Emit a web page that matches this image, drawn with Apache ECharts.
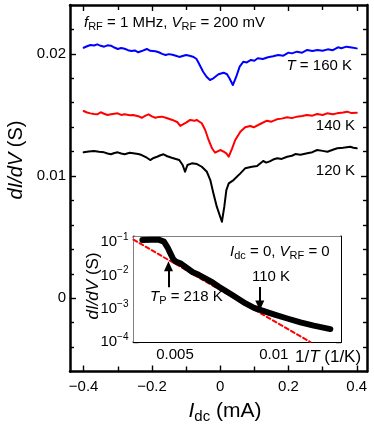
<!DOCTYPE html>
<html>
<head>
<meta charset="utf-8">
<script src="https://cdn.jsdelivr.net/npm/echarts@6/dist/echarts.min.js"></script>
<style>
  html, body { margin: 0; padding: 0; background: #fff; }
  #chart { width: 374px; height: 431px; }
</style>
</head>
<body>
<div id="chart"></div>
<script>
  // main panel: dI/dV vs Idc, [Idc (mA), dI/dV (S)]
  const curve160 = [
    [-0.40, 0.02050], [-0.39, 0.02062], [-0.38, 0.02073], [-0.37, 0.02068], [-0.36, 0.02078], [-0.35, 0.02066],
    [-0.34, 0.02059], [-0.33, 0.02070], [-0.32, 0.02067], [-0.31, 0.02052], [-0.30, 0.02040], [-0.29, 0.02048],
    [-0.28, 0.02042], [-0.27, 0.02030], [-0.26, 0.02023], [-0.25, 0.02028], [-0.24, 0.02013], [-0.23, 0.02023],
    [-0.215, 0.02040], [-0.205, 0.02025], [-0.20, 0.02018], [-0.19, 0.02022], [-0.18, 0.02013], [-0.17, 0.02000],
    [-0.16, 0.01991], [-0.15, 0.01998], [-0.14, 0.01993], [-0.13, 0.01985], [-0.12, 0.01975], [-0.11, 0.01983],
    [-0.10, 0.01991], [-0.09, 0.01985], [-0.08, 0.01977], [-0.07, 0.01960], [-0.065, 0.01936], [-0.05, 0.01854],
    [-0.04, 0.01813], [-0.03, 0.01786], [-0.02, 0.01800], [-0.005, 0.01833], [0.01, 0.01846], [0.02, 0.01833],
    [0.027, 0.01800], [0.037, 0.01745], [0.047, 0.01813], [0.057, 0.01895], [0.068, 0.01936], [0.078, 0.01930],
    [0.09, 0.01950], [0.10, 0.01944], [0.11, 0.01964], [0.125, 0.01958], [0.14, 0.01972], [0.155, 0.01980],
    [0.17, 0.01991], [0.185, 0.01985], [0.20, 0.02010], [0.21, 0.02004], [0.225, 0.02018], [0.24, 0.02010],
    [0.255, 0.02032], [0.27, 0.02024], [0.285, 0.02032], [0.30, 0.02025], [0.315, 0.02037], [0.33, 0.02030],
    [0.345, 0.02054], [0.355, 0.02046], [0.37, 0.02059], [0.385, 0.02052], [0.40, 0.02045]
  ];
  const curve140 = [
    [-0.40, 0.01532], [-0.39, 0.01520], [-0.38, 0.01513], [-0.37, 0.01508], [-0.36, 0.01505], [-0.35, 0.01522],
    [-0.34, 0.01510], [-0.33, 0.01500], [-0.32, 0.01506], [-0.30, 0.01513], [-0.29, 0.01500], [-0.28, 0.01505],
    [-0.265, 0.01498], [-0.255, 0.01500], [-0.24, 0.01490], [-0.23, 0.01477], [-0.22, 0.01492], [-0.21, 0.01505],
    [-0.20, 0.01488], [-0.19, 0.01477], [-0.18, 0.01484], [-0.17, 0.01486], [-0.155, 0.01473], [-0.14, 0.01459],
    [-0.125, 0.01440], [-0.117, 0.01410], [-0.10, 0.01437], [-0.088, 0.01459], [-0.075, 0.01452], [-0.069, 0.01459],
    [-0.054, 0.01432], [-0.044, 0.01377], [-0.034, 0.01295], [-0.024, 0.01227], [-0.015, 0.01191], [0.0, 0.01213],
    [0.01, 0.01199], [0.018, 0.01186], [0.025, 0.01158], [0.035, 0.01227], [0.044, 0.01295], [0.059, 0.01363],
    [0.073, 0.01399], [0.088, 0.01410], [0.098, 0.01399], [0.117, 0.01426], [0.137, 0.01453], [0.15, 0.01445],
    [0.166, 0.01464], [0.18, 0.01470], [0.196, 0.01481], [0.21, 0.01474], [0.225, 0.01486], [0.24, 0.01492],
    [0.254, 0.01500], [0.27, 0.01494], [0.284, 0.01508], [0.30, 0.01500], [0.313, 0.01513], [0.33, 0.01506],
    [0.342, 0.01513], [0.36, 0.01520], [0.372, 0.01527], [0.385, 0.01515], [0.40, 0.01518]
  ];
  const curve120 = [
    [-0.40, 0.01194], [-0.385, 0.01200], [-0.37, 0.01205], [-0.355, 0.01198], [-0.34, 0.01194], [-0.33, 0.01185],
    [-0.32, 0.01178], [-0.31, 0.01188], [-0.30, 0.01194], [-0.29, 0.01184], [-0.28, 0.01178], [-0.265, 0.01190],
    [-0.255, 0.01186], [-0.24, 0.01180], [-0.23, 0.01172], [-0.215, 0.01150], [-0.205, 0.01131], [-0.195, 0.01148],
    [-0.185, 0.01158], [-0.175, 0.01170], [-0.166, 0.01178], [-0.155, 0.01162], [-0.142, 0.01150], [-0.13, 0.01140],
    [-0.12, 0.01131], [-0.11, 0.01090], [-0.103, 0.01035], [-0.096, 0.01090], [-0.083, 0.01104], [-0.068, 0.01098],
    [-0.054, 0.01076], [-0.039, 0.01035], [-0.029, 0.00967], [-0.02, 0.00859], [-0.01, 0.00749], [0.0, 0.00667],
    [0.005, 0.00626], [0.012, 0.00749], [0.018, 0.00885], [0.025, 0.00940], [0.039, 0.00967], [0.059, 0.01022],
    [0.073, 0.01063], [0.093, 0.01076], [0.108, 0.01082], [0.126, 0.01123], [0.135, 0.01110], [0.145, 0.01120],
    [0.155, 0.01135], [0.167, 0.01145], [0.18, 0.01140], [0.196, 0.01158], [0.21, 0.01166], [0.22, 0.01180],
    [0.235, 0.01174], [0.255, 0.01186], [0.27, 0.01195], [0.284, 0.01213], [0.30, 0.01206], [0.314, 0.01199],
    [0.33, 0.01215], [0.343, 0.01227], [0.36, 0.01232], [0.381, 0.01240], [0.39, 0.01232], [0.40, 0.01227]
  ];

  // inset: zero-bias dI/dV vs 1/T, [1/T (1/K), dI/dV (S)]
  const arrhenius = [
    [0.00335, 0.118], [0.0038, 0.120], [0.0042, 0.119], [0.00444, 0.105], [0.00462, 0.071], [0.00478, 0.045],
    [0.0049, 0.032], [0.00503, 0.0265], [0.0053, 0.0229], [0.00555, 0.0178], [0.0059, 0.0126], [0.0062, 0.0105],
    [0.00655, 0.0081], [0.0069, 0.0062], [0.00722, 0.0046], [0.0079, 0.0026], [0.00857, 0.00145], [0.0090, 0.00107],
    [0.0095, 0.00085], [0.0100, 0.00068], [0.01068, 0.00051], [0.01135, 0.00039], [0.01202, 0.00031], [0.01286, 0.000245]
  ];
  const activatedFit = [[0.0029, 0.12], [0.0110, 0.000196], [0.01185, 0.0001]];
  const arrowTp = [[0.00467, 0.00445], [0.00467, 0.0190]];
  const arrow110 = [[0.00929, 0.00454], [0.00929, 0.00125]];

  // ticks and labels
  const mainXLabels = [-0.4, -0.2, 0, 0.2, 0.4];
  const mainXMinor = [-0.3, -0.1, 0.1, 0.3];
  const mainYLabels = [0, 0.01, 0.02];
  const mainYMinor = [-0.004, -0.002, 0.002, 0.004, 0.006, 0.008, 0.012, 0.014, 0.016, 0.018, 0.022];
  const insetXLabels = [0.005, 0.01];
  const insetXMinor = [0.003, 0.004, 0.006, 0.007, 0.008, 0.009, 0.011, 0.012, 0.013];
  const insetYLabels = [1e-4, 1e-3, 1e-2, 1e-1];
  const insetYMinor = [];
  [1e-4, 1e-3, 1e-2].forEach(d => { for (let k = 2; k <= 9; k++) insetYMinor.push(k * d); });

  const FONT = '"Liberation Sans", Arial, Helvetica, sans-serif';
  const BLACK = '#000';

  function axis(gridIndex, position, min, max, opts) {
    const a = {
      gridIndex: gridIndex,
      type: opts.log ? 'log' : 'value',
      position: position,
      min: min,
      max: max,
      splitLine: { show: false },
      axisLine: { show: !!opts.line, onZero: false, lineStyle: { color: BLACK, width: opts.line || 0 } },
      axisTick: { show: true, inside: true, length: opts.tickLen, customValues: opts.ticks,
        lineStyle: { color: BLACK, width: 1.4 } },
      axisLabel: { show: false }
    };
    if (opts.log) a.logBase = 10;
    if (opts.labels) {
      a.axisLabel = {
        show: true,
        customValues: opts.labels,
        color: BLACK,
        fontFamily: FONT,
        fontSize: opts.fontSize,
        margin: opts.margin,
        formatter: opts.formatter,
        rich: opts.rich
      };
    }
    return a;
  }

  const minus = v => String(v).replace('-', '\u2212');
  const MAIN_X = [-0.44, 0.43];
  const MAIN_Y = [-0.006, 0.024];
  const INS_X = [0.0029, 0.0134];
  const INS_Y = [1e-4, 0.15];

  const xAxes = [
    axis(0, 'bottom', MAIN_X[0], MAIN_X[1], { line: 2.5, tickLen: 6, ticks: mainXLabels, labels: mainXLabels, fontSize: 15, margin: 8, formatter: minus }),
    axis(0, 'top', MAIN_X[0], MAIN_X[1], { line: 2.5, tickLen: 6, ticks: mainXLabels }),
    axis(1, 'bottom', MAIN_X[0], MAIN_X[1], { tickLen: 5, ticks: mainXMinor }),
    axis(1, 'top', MAIN_X[0], MAIN_X[1], { tickLen: 5, ticks: mainXMinor }),
    axis(2, 'bottom', INS_X[0], INS_X[1], { line: 2, tickLen: 5, ticks: insetXLabels, labels: insetXLabels, fontSize: 15, margin: 5, formatter: v => String(v) }),
    axis(2, 'top', INS_X[0], INS_X[1], { line: 2, tickLen: 5, ticks: insetXLabels }),
    axis(3, 'bottom', INS_X[0], INS_X[1], { tickLen: 3.5, ticks: insetXMinor }),
    axis(3, 'top', INS_X[0], INS_X[1], { tickLen: 3.5, ticks: insetXMinor })
  ];
  const supRich = {
    b: { fontFamily: FONT, fontSize: 15, color: BLACK },
    p: { fontFamily: FONT, fontSize: 10, color: BLACK, padding: [0, 0, 10, 0] }
  };
  const yAxes = [
    axis(0, 'left', MAIN_Y[0], MAIN_Y[1], { line: 2.5, tickLen: 6, ticks: mainYLabels, labels: mainYLabels, fontSize: 15, margin: 4 }),
    axis(0, 'right', MAIN_Y[0], MAIN_Y[1], { line: 2.5, tickLen: 6, ticks: mainYLabels }),
    axis(1, 'left', MAIN_Y[0], MAIN_Y[1], { tickLen: 4, ticks: mainYMinor }),
    axis(1, 'right', MAIN_Y[0], MAIN_Y[1], { tickLen: 4, ticks: mainYMinor }),
    axis(2, 'left', INS_Y[0], INS_Y[1], { log: true, line: 2, tickLen: 5, ticks: insetYLabels, labels: insetYLabels, margin: 5,
      formatter: v => '{b|10}{p|\u2212' + Math.round(-Math.log10(v)) + '}', rich: supRich }),
    axis(2, 'right', INS_Y[0], INS_Y[1], { log: true, line: 2, tickLen: 5, ticks: insetYLabels }),
    axis(3, 'left', INS_Y[0], INS_Y[1], { log: true, tickLen: 3, ticks: insetYMinor }),
    axis(3, 'right', INS_Y[0], INS_Y[1], { log: true, tickLen: 3, ticks: insetYMinor })
  ];

  function text(x, y, str, size, opts) {
    opts = opts || {};
    const sub = opts.sub || Math.round(size * 0.72);
    return {
      type: 'text', x: x, y: y, z: 100,
      rotation: opts.rotation || 0,
      style: {
        text: str, fill: BLACK, fontFamily: FONT, fontSize: size,
        align: opts.align || 'left', verticalAlign: 'middle',
        rich: {
          i: { fontFamily: FONT, fontSize: size, fontStyle: 'italic', fill: BLACK },
          n: { fontFamily: FONT, fontSize: size, fill: BLACK },
          s: { fontFamily: FONT, fontSize: sub, fill: BLACK, padding: [Math.round(size * 0.55), 0, 0, 0] }
        }
      }
    };
  }

  const line = (data, color, xi, yi, width, type) => ({
    type: 'line', data: data, xAxisIndex: xi, yAxisIndex: yi,
    showSymbol: false, symbol: 'none', silent: true, clip: true,
    lineStyle: { color: color, width: width, type: type || 'solid', cap: 'round', join: 'round' },
    z: 3
  });
  const arrow = (pts) => [{ coord: pts[0] }, { coord: pts[1] }];

  const option = {
    animation: false,
    backgroundColor: '#fff',
    grid: [
      { left: 70, top: 5, right: 7, bottom: 59.5, outerBoundsMode: 'none' },
      { left: 70, top: 5, right: 7, bottom: 59.5, outerBoundsMode: 'none' },
      { left: 133.5, top: 236.5, right: 33, bottom: 89, show: true, backgroundColor: '#fff', borderWidth: 0, outerBoundsMode: 'none', z: 1 },
      { left: 133.5, top: 236.5, right: 33, bottom: 89, outerBoundsMode: 'none' }
    ],
    xAxis: xAxes,
    yAxis: yAxes,
    series: [
      line(curve160, '#0000ff', 0, 0, 2),
      line(curve140, '#ff0000', 0, 0, 2),
      line(curve120, '#000000', 0, 0, 2),
      line(activatedFit, '#ff0000', 4, 4, 2, [4, 3]),
      line(arrhenius, '#000000', 4, 4, 6),
      {
        type: 'line', data: [], xAxisIndex: 4, yAxisIndex: 4,
        markLine: {
          silent: true, animation: false,
          symbol: ['none', 'triangle'], symbolSize: [9, 10],
          lineStyle: { color: BLACK, width: 2, type: 'solid' },
          label: { show: false },
          data: [arrow(arrowTp), arrow(arrow110)]
        }
      }
    ],
    graphic: [
      text(84, 23, '{i|f}{s|RF}{n| = 1 MHz, }{i|V}{s|RF}{n| = 200 mV}', 15, { sub: 11 }),
      text(352, 66, '{i|T}{n| = 160 K}', 15, { align: 'right' }),
      text(355, 126, '{n|140 K}', 15, { align: 'right' }),
      text(355, 171, '{n|120 K}', 15, { align: 'right' }),
      text(16, 160, '{i|dI/dV}{n| (S)}', 20, { align: 'center', rotation: Math.PI / 2 }),
      text(225, 411, '{i|I}{s|dc}{n| (mA)}', 21, { align: 'center', sub: 15 }),
      text(93, 286, '{i|dI/dV}{n| (S)}', 17, { align: 'center', rotation: Math.PI / 2 }),
      text(295, 357, '{n|1/}{i|T}{n| (1/K)}', 17),
      text(230, 252, '{i|I}{s|dc}{n| = 0, }{i|V}{s|RF}{n| = 0}', 15, { sub: 11 }),
      text(271, 277, '{n|110 K}', 15, { align: 'center' }),
      text(150, 297, '{i|T}{s|P}{n| = 218 K}', 15, { sub: 11 })
    ]
  };

  const chart = echarts.init(document.getElementById('chart'), null, { renderer: 'canvas' });
  chart.setOption(option);
</script>
</body>
</html>
